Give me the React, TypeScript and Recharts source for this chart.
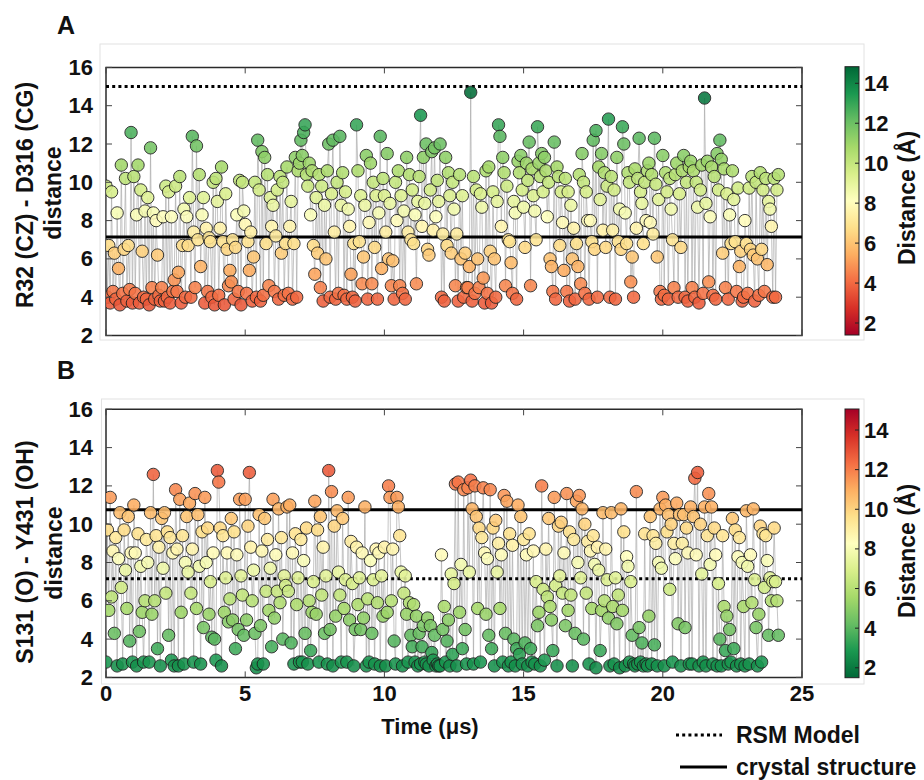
import { LineChart, Line, XAxis, YAxis, ReferenceLine, ReferenceArea } from 'recharts';

// frames are 0.05 µs apart
const STEP = 0.05;
const X_TICKS = [0, 5, 10, 15, 20, 25];
const Y_TICKS = [2, 4, 6, 8, 10, 12, 14, 16];
const CB_TICKS = [2, 4, 6, 8, 10, 12, 14];

// A: R32 (CZ) - D316 (CG) distance, one array per 4 µs
const distA0 = [
  9.8, 4.0, 6.7, 3.7, 9.5, 4.3, 6.3, 3.9, 8.4, 5.5,
  3.6, 10.9, 4.2, 6.5, 10.2, 3.8, 6.7, 4.4, 12.6, 3.7,
  10.3, 4.2, 8.3, 10.9, 3.7, 9.6, 6.4, 4.0, 8.5, 3.9,
  9.2, 3.6, 11.8, 4.5, 8.4, 3.9, 8.0, 6.2, 4.1, 3.8,
  4.5, 8.2, 3.8, 9.8, 4.0, 9.5, 3.7, 8.2, 4.3, 4.9,
  9.8, 4.3, 5.3, 10.3, 3.7, 6.7, 8.6, 4.0, 8.2, 6.7,
  9.2, 4.0, 12.4, 7.4, 4.5, 11.9, 7.0, 10.4, 5.6, 8.3,
  9.2, 3.7, 7.6, 4.3, 7.1, 6.9, 4.0, 10.0, 3.6, 10.2,
];
const distA1 = [
  9.0, 4.1, 7.6, 10.8, 6.9, 3.6, 9.4, 6.5, 4.6, 5.4,
  4.8, 7.0, 3.9, 6.6, 8.3, 4.3, 10.1, 3.6, 10.0, 8.5,
  7.8, 4.2, 6.9, 5.4, 7.4, 3.8, 6.1, 10.0, 4.0, 12.2,
  9.6, 3.8, 11.6, 4.1, 11.3, 6.8, 10.4, 4.6, 9.2, 7.7,
  8.8, 4.3, 7.2, 9.6, 3.9, 10.3, 6.3, 10.0, 4.1, 6.8,
  10.8, 4.2, 7.7, 9.0, 3.9, 6.8, 11.3, 4.0, 10.6, 11.0,
  12.2, 11.4, 12.6, 13.0, 10.4, 9.8, 11.0, 8.3, 10.6, 6.7,
  5.2, 9.2, 6.3, 10.4, 4.5, 9.8, 3.8, 8.8, 6.0, 10.6,
];
const distA2 = [
  12.0, 4.0, 9.4, 12.2, 7.4, 3.9, 10.0, 4.2, 12.4, 8.8,
  10.5, 4.1, 9.5, 3.9, 8.6, 7.7, 5.2, 4.0, 6.8, 3.8,
  13.0, 10.6, 6.9, 9.3, 4.7, 6.1, 8.8, 11.4, 3.9, 7.9,
  11.0, 4.7, 10.0, 6.6, 9.3, 3.9, 8.4, 12.4, 5.5, 10.2,
  9.3, 7.4, 11.5, 6.0, 8.9, 4.6, 5.9, 3.9, 10.0, 8.0,
  10.6, 4.6, 9.3, 4.2, 8.5, 3.9, 11.3, 7.4, 10.4, 7.0,
  9.6, 6.8, 8.3, 4.7, 9.0, 10.3, 13.5, 7.7, 11.3, 8.9,
  12.0, 6.5, 6.2, 9.6, 11.6, 7.5, 11.8, 8.2, 10.1, 9.0,
];
const distA3 = [
  12.0, 4.0, 7.3, 3.8, 11.3, 6.7, 10.5, 9.3, 6.3, 10.0,
  8.6, 4.6, 7.3, 3.8, 10.4, 6.0, 9.3, 4.0, 6.3, 4.5,
  4.5, 5.6, 14.7, 3.8, 10.3, 4.2, 9.6, 6.0, 4.5, 9.4,
  8.7, 5.0, 3.7, 10.6, 4.2, 10.8, 6.4, 3.7, 9.5, 6.0,
  4.0, 9.0, 13.0, 12.4, 7.7, 11.3, 10.5, 4.6, 9.8, 7.0,
  6.9, 5.8, 4.2, 9.0, 8.4, 3.9, 11.1, 10.5, 11.4, 9.6,
  8.7, 6.6, 11.0, 10.1, 12.1, 4.6, 10.7, 9.3, 8.5, 7.0,
  12.9, 11.0, 10.3, 11.5, 9.5, 11.3, 10.6, 8.2, 10.0, 6.0,
];
const distA4 = [
  5.6, 4.3, 12.1, 3.9, 10.8, 10.3, 6.7, 9.5, 7.9, 5.4,
  10.2, 4.3, 9.5, 3.8, 8.8, 6.0, 7.6, 3.9, 6.8, 5.6,
  10.4, 4.7, 11.5, 10.0, 4.2, 9.5, 8.0, 3.9, 8.0, 6.9,
  12.2, 6.5, 12.7, 4.0, 10.8, 9.1, 11.5, 7.5, 10.5, 6.6,
  9.8, 13.3, 4.0, 10.3, 7.5, 9.6, 3.9, 11.3, 6.9, 8.6,
  6.5, 12.9, 12.0, 8.4, 6.8, 10.5, 10.0, 4.8, 6.1, 4.0,
  10.7, 7.6, 10.2, 12.3, 9.5, 8.9, 6.8, 10.0, 8.0, 10.6,
  11.0, 7.9, 10.4, 7.3, 12.3, 9.9, 6.1, 9.1, 4.3, 3.9,
];
const distA5 = [
  11.4, 4.1, 10.5, 9.5, 3.9, 10.2, 8.6, 7.0, 4.5, 10.4,
  11.0, 4.0, 9.4, 6.6, 10.6, 11.4, 4.0, 10.0, 3.8, 10.8,
  11.1, 4.5, 10.6, 4.0, 10.0, 8.7, 3.7, 9.6, 10.9, 4.2,
  14.4, 8.9, 11.1, 4.8, 8.2, 10.8, 4.1, 10.3, 3.9, 11.5,
  9.6, 12.2, 11.2, 6.3, 10.7, 4.5, 9.4, 3.9, 8.3, 6.8,
  10.6, 9.1, 6.9, 4.3, 9.7, 5.6, 6.4, 3.8, 4.0, 8.0,
  6.8, 4.2, 9.7, 6.5, 10.3, 6.2, 3.8, 10.0, 6.0, 4.1,
  10.5, 6.5, 9.6, 4.3, 10.2, 5.7, 9.0, 8.6, 7.7, 4.0,
  10.2, 4.0, 9.6, 10.4,
];

// B: S131 (O) - Y431 (OH) distance
const distB0 = [
  2.8, 9.7, 5.5, 11.4, 6.2, 8.6, 4.3, 9.3, 2.6, 8.2,
  10.6, 6.7, 2.7, 9.7, 7.6, 5.6, 10.4, 3.9, 8.5, 2.8,
  11.0, 8.5, 2.6, 9.5, 4.4, 7.8, 5.4, 2.8, 6.0, 9.2,
  8.0, 2.8, 10.6, 5.3, 12.6, 6.0, 9.4, 3.5, 8.8, 2.6,
  10.3, 7.7, 10.6, 6.4, 9.6, 4.2, 9.3, 2.9, 8.5, 2.6,
  11.8, 8.7, 2.6, 11.3, 5.4, 9.4, 2.7, 8.0, 10.4, 7.5,
  11.1, 6.4, 8.7, 2.8, 11.6, 5.6, 10.5, 7.8, 2.7, 9.6,
  4.6, 11.4, 8.0, 9.8, 5.3, 7.0, 4.1, 8.5, 4.0, 2.9,
];
const distB1 = [
  12.8, 12.2, 9.8, 2.6, 9.4, 5.4, 7.2, 8.5, 4.9, 6.1,
  10.3, 5.0, 9.6, 3.5, 8.4, 4.5, 11.3, 7.3, 6.3, 4.2,
  11.3, 5.0, 9.9, 12.7, 8.8, 6.0, 7.6, 4.3, 2.5, 2.7,
  10.5, 4.7, 8.6, 2.7, 10.3, 6.5, 9.2, 5.5, 7.7, 3.6,
  11.3, 5.1, 8.4, 6.5, 10.8, 5.9, 9.3, 4.0, 7.3, 6.8,
  10.9, 6.5, 11.0, 3.8, 8.5, 2.7, 9.5, 5.8, 7.2, 2.8,
  9.2, 2.8, 8.1, 4.3, 9.8, 2.7, 6.0, 3.4, 5.4, 7.0,
  11.2, 5.3, 9.7, 2.8, 10.4, 6.3, 8.8, 4.3, 7.3, 2.7,
];
const distB2 = [
  12.8, 4.5, 11.7, 2.6, 9.9, 5.2, 10.7, 7.5, 6.3, 2.8,
  10.3, 5.6, 7.1, 2.8, 11.4, 5.0, 9.1, 6.9, 2.6, 4.5,
  8.8, 5.8, 7.2, 4.5, 8.5, 5.1, 10.9, 2.6, 6.1, 2.8,
  8.1, 4.3, 7.1, 2.7, 8.7, 5.9, 8.5, 2.6, 7.3, 5.2,
  8.8, 2.6, 5.4, 12.0, 11.4, 6.0, 8.7, 3.9, 2.7, 11.4,
  10.9, 9.4, 7.5, 2.6, 6.4, 7.3, 5.3, 2.8, 5.9, 4.2,
  3.6, 5.8, 2.8, 5.2, 2.6, 4.3, 2.7, 3.6, 4.7, 2.8,
  2.7, 5.1, 2.6, 4.7, 3.3, 2.9, 4.2, 2.6, 2.7, 2.6,
];
const distB3 = [
  2.6, 8.4, 4.5, 5.7, 2.8, 3.9, 5.0, 2.6, 7.4, 3.2,
  6.9, 12.1, 2.6, 12.2, 5.4, 7.9, 3.5, 11.8, 4.5, 2.7,
  11.9, 7.5, 12.3, 10.8, 2.7, 12.0, 10.4, 5.6, 9.8, 2.8,
  9.3, 11.9, 8.5, 5.3, 8.2, 4.2, 11.8, 3.5, 9.8, 2.6,
  10.2, 7.5, 9.0, 5.6, 8.4, 2.8, 11.5, 4.3, 11.2, 2.6,
  9.5, 2.8, 8.9, 4.0, 2.6, 3.5, 11.0, 3.2, 10.4, 2.7,
  9.2, 3.8, 8.4, 2.6, 9.5, 3.5, 2.8, 8.6, 2.7, 7.0,
  4.7, 5.4, 2.6, 12.0, 6.6, 2.9, 8.7, 6.2, 10.3, 5.7,
];
const distB4 = [
  5.0, 3.4, 11.4, 6.8, 2.6, 9.9, 7.3, 10.1, 6.4, 8.5,
  4.7, 11.6, 5.5, 9.6, 6.3, 2.6, 9.2, 4.3, 11.2, 8.0,
  11.5, 7.2, 10.8, 4.0, 10.0, 6.4, 9.1, 2.7, 8.6, 5.6,
  9.4, 7.9, 2.5, 8.8, 7.6, 3.4, 5.5, 10.6, 6.0, 8.7,
  7.1, 5.1, 2.6, 10.6, 5.7, 2.7, 7.2, 4.8, 6.3, 2.5,
  10.8, 5.5, 9.6, 2.6, 8.3, 7.8, 2.8, 7.0, 4.2, 2.7,
  2.6, 11.7, 2.7, 4.6, 2.8, 3.8, 2.6, 9.5, 2.7, 2.6,
  5.2, 10.4, 2.7, 9.4, 3.7, 9.0, 2.6, 8.0, 10.8, 7.7,
];
const distB5 = [
  11.4, 2.6, 11.0, 9.6, 10.5, 6.6, 10.0, 2.8, 9.0, 8.2,
  11.1, 4.8, 10.5, 2.6, 9.0, 10.5, 4.6, 9.8, 8.5, 2.7,
  10.9, 2.7, 10.4, 12.4, 8.4, 12.7, 2.6, 10.0, 7.4, 2.8,
  10.9, 2.6, 9.4, 11.6, 7.9, 10.9, 2.7, 9.8, 8.4, 2.6,
  6.9, 4.0, 2.6, 9.4, 5.7, 3.4, 5.2, 2.7, 4.5, 2.8,
  10.3, 3.5, 9.7, 2.6, 8.3, 9.3, 2.7, 8.0, 5.7, 2.6,
  10.7, 7.8, 2.7, 8.4, 5.9, 10.8, 7.1, 4.6, 2.6, 5.3,
  9.9, 2.8, 9.5, 6.7, 9.4, 8.1, 4.2, 7.2, 6.0, 7.0,
  9.8, 7.0, 6.0, 4.2,
];

const distA = [...distA0, ...distA1, ...distA2, ...distA3, ...distA4, ...distA5];
const distB = [...distB0, ...distB1, ...distB2, ...distB3, ...distB4, ...distB5];

const RSM_A = 15.0;
const CRYSTAL_A = 7.15;
const RSM_B = 7.15;
const CRYSTAL_B = 10.75;

// RdYlGn
const RDYLGN = ['#a50026', '#d73027', '#f46d43', '#fdae61', '#fee08b', '#ffffbf', '#d9ef8b', '#a6d96a', '#66bd63', '#1a9850', '#006837'];
const RDYLGN_R = [...RDYLGN].reverse();

const FONT = "'Liberation Sans', Arial, Helvetica, sans-serif";

const hex = (h: string) => [1, 3, 5].map((i) => parseInt(h.slice(i, i + 2), 16));

function mapColor(stops: string[], f: number) {
  const t = Math.min(1, Math.max(0, f)) * (stops.length - 1);
  const i = Math.min(stops.length - 2, Math.floor(t));
  const k = t - i;
  const a = hex(stops[i]);
  const b = hex(stops[i + 1]);
  const c = a.map((v, j) => Math.round(v + (b[j] - v) * k));
  return `rgb(${c[0]},${c[1]},${c[2]})`;
}

const toRows = (vals: number[]) => vals.map((d, i) => ({ t: Math.round(i * STEP * 100) / 100, d }));

interface Plot { left: number; right: number; top: number; bottom: number }
interface Scale { stops: string[]; vmin: number; vmax: number }

const SCALE_A: Scale = { stops: RDYLGN, vmin: 1.4, vmax: 14.83 };
const SCALE_B: Scale = { stops: RDYLGN_R, vmin: 1.5, vmax: 15.06 };

function Panel({ data, top, height, plot, rsm, crystal, scale, xLabels }: {
  data: { t: number; d: number }[]; top: number; height: number; plot: Plot;
  rsm: number; crystal: number; scale: Scale; xLabels: boolean;
}) {
  const yTick = (p: any) => (
    <g>
      <line x1={plot.left} x2={plot.left + 6} y1={p.y} y2={p.y} stroke="#444" />
      <line x1={plot.right - 6} x2={plot.right} y1={p.y} y2={p.y} stroke="#444" />
      <text x={p.x} y={p.y} textAnchor="end" dominantBaseline="central" fontSize={22} fontWeight="bold" fontFamily={FONT} fill="#111">
        {p.payload.value}
      </text>
    </g>
  );
  const xTick = (p: any) => (
    <g>
      <line x1={p.x} x2={p.x} y1={plot.bottom - 6} y2={plot.bottom} stroke="#444" />
      <line x1={p.x} x2={p.x} y1={plot.top} y2={plot.top + 6} stroke="#444" />
      {xLabels && (
        <text x={p.x} y={p.y} textAnchor="middle" dominantBaseline="central" fontSize={22} fontWeight="bold" fontFamily={FONT} fill="#111">
          {p.payload.value}
        </text>
      )}
    </g>
  );
  const dot = (p: any) => (
    <circle
      key={p.index}
      cx={p.cx}
      cy={p.cy}
      r={6.2}
      fill={mapColor(scale.stops, (p.payload.d - scale.vmin) / (scale.vmax - scale.vmin))}
      stroke="#1e1e1e"
      strokeWidth={1}
      opacity={0.88}
    />
  );
  return (
    <div style={{ position: 'absolute', left: 0, top, width: 924, height }}>
      <LineChart
        width={924}
        height={height}
        data={data}
        margin={{ top: plot.top, right: 924 - plot.right, left: plot.left - 40, bottom: height - plot.bottom - 30 }}
      >
        <XAxis
          dataKey="t"
          type="number"
          domain={[0, 25]}
          ticks={X_TICKS}
          height={30}
          axisLine={false}
          tickLine={false}
          tickSize={0}
          tickMargin={16}
          tick={xTick}
          allowDataOverflow
        />
        <YAxis
          type="number"
          domain={[2, 16]}
          ticks={Y_TICKS}
          width={40}
          axisLine={false}
          tickLine={false}
          tickSize={0}
          tickMargin={13}
          tick={yTick}
          allowDataOverflow
        />
        <Line
          type="linear"
          dataKey="d"
          stroke="#a8a8a8"
          strokeOpacity={0.75}
          strokeWidth={0.9}
          dot={dot}
          activeDot={false}
          isAnimationActive={false}
        />
        <ReferenceLine y={rsm} stroke="#000" strokeWidth={3} strokeDasharray="3 3.2" />
        <ReferenceLine y={crystal} stroke="#000" strokeWidth={3} />
        <ReferenceArea x1={0} x2={25} y1={2} y2={16} fill="none" stroke="#2a2a2a" strokeWidth={1.5} />
      </LineChart>
    </div>
  );
}

function ColorBar({ id, x, y, w, h, scale }: { id: string; x: number; y: number; w: number; h: number; scale: Scale }) {
  const pos = (v: number) => y + ((scale.vmax - v) / (scale.vmax - scale.vmin)) * h;
  return (
    <g>
      <defs>
        <linearGradient id={id} x1="0" y1="1" x2="0" y2="0">
          {scale.stops.map((c, i) => (
            <stop key={i} offset={`${(i / (scale.stops.length - 1)) * 100}%`} stopColor={c} />
          ))}
        </linearGradient>
      </defs>
      <rect x={x} y={y} width={w} height={h} fill={`url(#${id})`} stroke="#222" strokeWidth={1} />
      {CB_TICKS.map((v) => (
        <g key={v}>
          <line x1={x + w - 4} x2={x + w} y1={pos(v)} y2={pos(v)} stroke="#222" />
          <text x={x + w + 5} y={pos(v)} dominantBaseline="central" fontSize={22} fontWeight="bold" fontFamily={FONT} fill="#111">
            {v}
          </text>
        </g>
      ))}
    </g>
  );
}

const PLOT_A: Plot = { left: 106, right: 802, top: 67.4, bottom: 335.5 };
const PLOT_B: Plot = { left: 106, right: 802, top: 29.3, bottom: 297.4 };

export default function App() {
  const txt = { fontFamily: FONT, fontWeight: 'bold' as const, fill: '#111' };
  return (
    <div style={{ position: 'absolute', left: 0, top: 0, width: 924, height: 780, background: '#fff', overflow: 'hidden' }}>
      <svg width={924} height={780} style={{ position: 'absolute', left: 0, top: 0 }}>
        <rect x={100} y={44} width={764} height={296} fill="none" stroke="#e2e2e2" />
        <rect x={101.5} y={399} width={762.5} height={285} fill="none" stroke="#e2e2e2" />
      </svg>
      <Panel data={toRows(distA)} top={0} height={360} plot={PLOT_A} rsm={RSM_A} crystal={CRYSTAL_A} scale={SCALE_A} xLabels={false} />
      <Panel data={toRows(distB)} top={380} height={400} plot={PLOT_B} rsm={RSM_B} crystal={CRYSTAL_B} scale={SCALE_B} xLabels />
      <svg width={924} height={780} style={{ position: 'absolute', left: 0, top: 0, pointerEvents: 'none' }}>
        <text x={57} y={25} dominantBaseline="central" fontSize={25} {...txt}>A</text>
        <text x={57} y={370} dominantBaseline="central" fontSize={25} {...txt}>B</text>

        <text transform="translate(25,195) rotate(-90)" textAnchor="middle" dominantBaseline="central" fontSize={23} {...txt}>R32 (CZ) - D316 (CG)</text>
        <text transform="translate(53,193) rotate(-90)" textAnchor="middle" dominantBaseline="central" fontSize={23} {...txt}>distance</text>
        <text transform="translate(25,552) rotate(-90)" textAnchor="middle" dominantBaseline="central" fontSize={23} {...txt}>S131 (O) - Y431 (OH)</text>
        <text transform="translate(54,553) rotate(-90)" textAnchor="middle" dominantBaseline="central" fontSize={23} {...txt}>distance</text>

        <ColorBar id="cbA" x={845} y={66.7} w={14} h={268.3} scale={SCALE_A} />
        <ColorBar id="cbB" x={845} y={409} w={14} h={268.7} scale={SCALE_B} />
        <text transform="translate(907,198) rotate(-90)" textAnchor="middle" dominantBaseline="central" fontSize={23} {...txt}>Distance (Å)</text>
        <text transform="translate(907,551) rotate(-90)" textAnchor="middle" dominantBaseline="central" fontSize={23} {...txt}>Distance (Å)</text>

        <text x={430} y={726} textAnchor="middle" dominantBaseline="central" fontSize={22} {...txt}>Time (μs)</text>

        <line x1={676} x2={722} y1={735} y2={735} stroke="#000" strokeWidth={3} strokeDasharray="3 3.2" />
        <text x={736} y={735} dominantBaseline="central" fontSize={23} {...txt}>RSM Model</text>
        <line x1={680} x2={727} y1={767} y2={767} stroke="#000" strokeWidth={3} />
        <text x={736} y={767} dominantBaseline="central" fontSize={23} {...txt}>crystal structure</text>
      </svg>
    </div>
  );
}
